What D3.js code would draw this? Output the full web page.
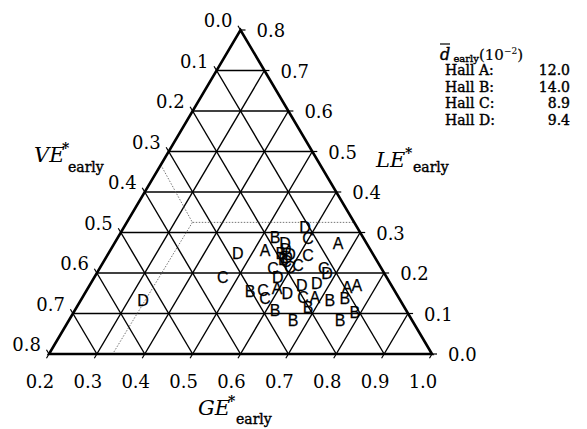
<!DOCTYPE html>
<html>
<head>
<meta charset="utf-8">
<script src="https://cdn.jsdelivr.net/npm/d3@7"></script>
<style>
    body { margin: 0; background: #fff; }
    svg { display: block; }
    .tick-label { font-family: "DejaVu Serif", serif; font-size: 18px; fill: #000; }
    .marker { font-family: "Liberation Sans", Arial, sans-serif; font-size: 16px; fill: #000; stroke: #000; stroke-width: 0.25; }
    .legend { font-family: "DejaVu Serif", serif; font-size: 14px; fill: #000; stroke: #000; stroke-width: 0.4; }
    .axis-title { font-family: "DejaVu Serif", serif; fill: #000; }
</style>
</head>
<body>
<div id="chart"></div>
<script>
// tick values on the three sides
const geTicks = [0.2, 0.3, 0.4, 0.5, 0.6, 0.7, 0.8, 0.9, 1.0];
const veTicks = [0.0, 0.1, 0.2, 0.3, 0.4, 0.5, 0.6, 0.7, 0.8];
const leTicks = [0.0, 0.1, 0.2, 0.3, 0.4, 0.5, 0.6, 0.7, 0.8];

// measured points as [GE*, LE*]  (VE* = 1 - GE* - LE*)
const hallA = [[0.523, 0.257], [0.667, 0.274], [0.758, 0.170], [0.740, 0.165], [0.595, 0.163], [0.685, 0.141]];
const hallB = [[0.528, 0.289], [0.560, 0.249], [0.572, 0.235], [0.542, 0.156], [0.720, 0.133], [0.749, 0.138],
               [0.618, 0.109], [0.683, 0.116], [0.787, 0.104], [0.668, 0.084], [0.766, 0.084]];
const hallC = [[0.468, 0.190], [0.598, 0.286], [0.619, 0.244], [0.580, 0.230], [0.562, 0.212], [0.596, 0.215],
               [0.610, 0.220], [0.668, 0.212], [0.568, 0.158], [0.582, 0.138], [0.660, 0.141]];
const hallD = [[0.330, 0.133], [0.470, 0.249], [0.556, 0.274], [0.565, 0.259], [0.578, 0.314], [0.577, 0.240],
               [0.580, 0.247], [0.583, 0.190], [0.681, 0.200], [0.672, 0.175], [0.643, 0.170], [0.622, 0.151]];

const hallNames = ["A", "B", "C", "D"];
const dEarly = ["12.0", "14.0", "8.9", "9.4"];

// dotted region boundary, [GE*, LE*]
const boundaryUpper = [[0.2, 0.467], [0.337, 0.325], [0.675, 0.325]];
const boundaryLower = [[0.337, 0.325], [0.333, 0.0]];

function buildTernary() {
    const svg = d3.select("#chart")
        .append("svg")
        .attr("width", 587)
        .attr("height", 429);

    const x = d3.scaleLinear().domain([0.2, 1.0]).range([49, 432]);
    const y = d3.scaleLinear().domain([0, 0.8]).range([354, 30]);
    const proj = (ge, le) => [x(ge + le / 2), y(le)];
    const fmt = d3.format(".1f");
    const line = d3.line();

    // grid lines
    const gridLines = [];
    leTicks.slice(1, -1).forEach(le => gridLines.push([proj(0.2, le), proj(1 - le, le)]));
    geTicks.slice(1, -1).forEach(g => gridLines.push([proj(g, 0), proj(g, 1 - g)]));
    veTicks.slice(1, -1).forEach(v => gridLines.push([proj(0.2, 0.8 - v), proj(1 - v, 0)]));

    svg.append("g").selectAll("path")
        .data(gridLines)
        .enter().append("path")
        .attr("d", line)
        .attr("fill", "none")
        .attr("stroke", "#000")
        .attr("stroke-width", 1.4);

    // dotted boundary
    [boundaryUpper, boundaryLower].forEach(b => {
        svg.append("path")
            .attr("d", line(b.map(p => proj(p[0], p[1]))))
            .attr("fill", "none")
            .attr("stroke", "#666")
            .attr("stroke-width", 0.9)
            .attr("stroke-dasharray", "1.5,1.5");
    });

    // outer triangle
    svg.append("path")
        .attr("d", line([proj(0.2, 0), proj(1.0, 0), proj(0.2, 0.8)]) + "Z")
        .attr("fill", "none")
        .attr("stroke", "#000")
        .attr("stroke-width", 2.6)
        .attr("stroke-linejoin", "miter");

    // tick directions
    const unit = (a, b) => {
        const dx = b[0] - a[0], dy = b[1] - a[1], n = Math.hypot(dx, dy);
        return [dx / n, dy / n];
    };
    const leftDir = unit(proj(0.2, 0), proj(0.2, 0.8));
    const rightDir = unit(proj(1.0, 0), proj(0.2, 0.8));
    const tl = 5;

    const ticks = svg.append("g").attr("stroke", "#000").attr("stroke-width", 1.2);
    geTicks.forEach(g => {
        const p = proj(g, 0);
        ticks.append("line").attr("x1", p[0]).attr("y1", p[1])
            .attr("x2", p[0] - leftDir[0] * tl).attr("y2", p[1] - leftDir[1] * tl);
        svg.append("text").attr("class", "tick-label")
            .attr("x", p[0] - 9).attr("y", 388)
            .attr("text-anchor", "middle")
            .text(fmt(g));
    });
    veTicks.forEach(v => {
        const p = proj(0.2, 0.8 - v);
        ticks.append("line").attr("x1", p[0]).attr("y1", p[1])
            .attr("x2", p[0] + rightDir[0] * tl).attr("y2", p[1] + rightDir[1] * tl);
        svg.append("text").attr("class", "tick-label")
            .attr("x", p[0] - 8).attr("y", p[1] - 3)
            .attr("text-anchor", "end")
            .text(fmt(v));
    });
    leTicks.forEach(le => {
        const p = proj(1 - le, le);
        ticks.append("line").attr("x1", p[0]).attr("y1", p[1])
            .attr("x2", p[0] + tl).attr("y2", p[1]);
        svg.append("text").attr("class", "tick-label")
            .attr("x", p[0] + 16).attr("y", p[1] + 7)
            .text(fmt(le));
    });

    // data letters
    const allHalls = [hallA, hallB, hallC, hallD];
    allHalls.forEach((pts, i) => {
        svg.append("g").selectAll("text")
            .data(pts)
            .enter().append("text")
            .attr("class", "marker")
            .attr("x", d => proj(d[0], d[1])[0])
            .attr("y", d => proj(d[0], d[1])[1])
            .attr("dy", "0.36em")
            .attr("text-anchor", "middle")
            .text(hallNames[i]);
    });

    // axis titles
    const addTitle = (name, tx, ty, sx, sy, ex, ey) => {
        svg.append("text").attr("class", "axis-title")
            .attr("x", tx).attr("y", ty)
            .style("font-style", "italic").style("font-size", "21px")
            .text(name);
        svg.append("text").attr("class", "axis-title")
            .attr("x", sx).attr("y", sy)
            .style("font-size", "14px").style("font-weight", "bold")
            .text("*");
        svg.append("text").attr("class", "axis-title")
            .attr("x", ex).attr("y", ey)
            .style("font-size", "14px").style("stroke", "#000").style("stroke-width", 0.4)
            .text("early");
    };
    addTitle("VE", 34, 162, 62, 153, 68, 172);
    addTitle("LE", 376, 167, 405, 158, 413, 172);
    addTitle("GE", 198, 415, 228, 406, 236, 424);

    // legend
    const lg = svg.append("g").attr("class", "legend");
    const head = lg.append("text").attr("x", 440).attr("y", 60);
    head.append("tspan").text("d").style("font-style", "italic").style("font-size", "16px");
    head.append("tspan").text(" early").style("font-size", "10px").attr("dy", 2);
    head.append("tspan").text("(10").style("font-size", "15px").style("stroke-width", 0.2).attr("dy", -2);
    head.append("tspan").text("\u22122").style("font-size", "9px").style("stroke-width", 0.1).attr("dy", -6);
    head.append("tspan").text(")").style("font-size", "15px").style("stroke-width", 0.2).attr("dy", 6);
    lg.append("line").attr("x1", 440).attr("x2", 450).attr("y1", 44).attr("y2", 44)
        .attr("stroke", "#000").attr("stroke-width", 1.2);

    hallNames.forEach((h, i) => {
        const yy = 75 + i * 16.6;
        lg.append("text").attr("x", 445).attr("y", yy).text("Hall " + h + ":");
        lg.append("text").attr("x", 570).attr("y", yy).attr("text-anchor", "end").text(dEarly[i]);
    });
}

window.addEventListener("load", () => {
    buildTernary();
});
</script>
</body>
</html>
